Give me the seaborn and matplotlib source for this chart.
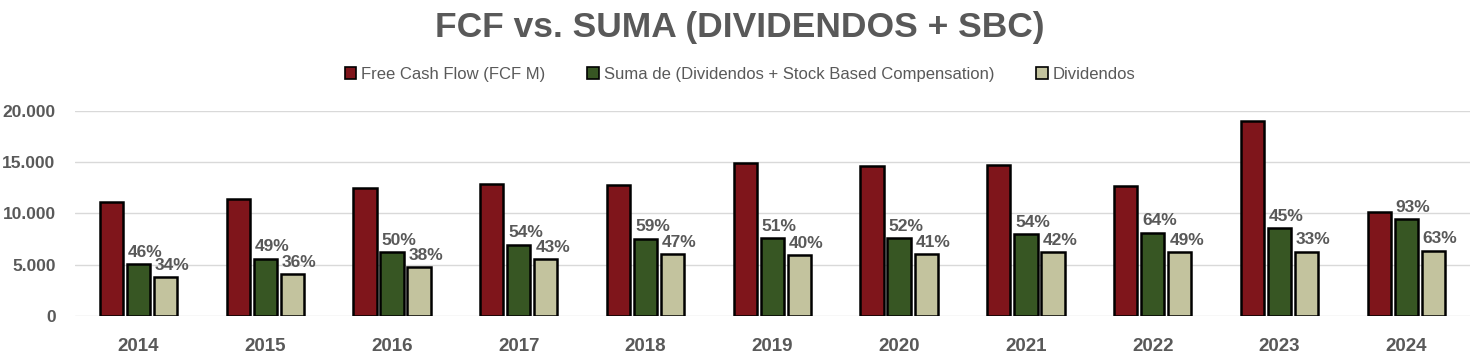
import matplotlib
matplotlib.use("Agg")
import matplotlib.pyplot as plt
import seaborn as sns
import pandas as pd
from matplotlib.patches import Patch

years = ["2014", "2015", "2016", "2017", "2018", "2019", "2020", "2021", "2022", "2023", "2024"]
fcf = [11100, 11400, 12500, 12900, 12800, 14900, 14650, 14750, 12700, 19050, 10150]
suma = [5100, 5600, 6250, 6970, 7550, 7600, 7620, 7960, 8130, 8570, 9440]
divs = [3770, 4100, 4750, 5550, 6020, 5960, 6010, 6200, 6220, 6290, 6390]
pct_suma = ["46%", "49%", "50%", "54%", "59%", "51%", "52%", "54%", "64%", "45%", "93%"]
pct_divs = ["34%", "36%", "38%", "43%", "47%", "40%", "41%", "42%", "49%", "33%", "63%"]
series = ["Free Cash Flow (FCF M)", "Suma de (Dividendos + Stock Based Compensation)", "Dividendos"]
colors = ["#7f151b", "#375623", "#c3c39e"]
grey = "#595959"

rows = []
for i, y in enumerate(years):
    rows.append((y, series[0], fcf[i]))
    rows.append((y, series[1], suma[i]))
    rows.append((y, series[2], divs[i]))
df = pd.DataFrame(rows, columns=["year", "serie", "value"])

sns.set_theme(style="white")
plt.rcParams['font.family'] = ['Liberation Sans', 'DejaVu Sans']

fig = plt.figure(figsize=(14.8, 3.58), dpi=100)
ax = fig.add_axes([0.0507, 0.1173, 0.9423, 0.5727])
sns.barplot(data=df, x="year", y="value", hue="serie", hue_order=series,
            palette=colors, width=0.64, gap=0.14, edgecolor="black", linewidth=1.8,
            ax=ax, legend=False, saturation=1)
ax.set_xlim(-0.5, 10.5)
ax.set_ylim(0, 20000)
ax.set_yticks([0, 5000, 10000, 15000, 20000])
ax.set_yticklabels(["0", "5.000", "10.000", "15.000", "20.000"])
ax.yaxis.grid(True, color="#d9d9d9", linewidth=1)
ax.set_axisbelow(True)
for s in ax.spines.values():
    s.set_visible(False)
ax.set_xlabel("")
ax.set_ylabel("")
ax.tick_params(axis="both", length=0, labelcolor=grey)
ax.tick_params(axis="y", pad=14, labelsize=12.5)
ax.tick_params(axis="x", pad=16, labelsize=13.5)
for lab in ax.get_xticklabels() + ax.get_yticklabels():
    lab.set_fontweight("bold")

# percentage labels
conts = ax.containers
for cont, labs in ((conts[1], pct_suma), (conts[2], pct_divs)):
    texts = ax.bar_label(cont, labels=labs, padding=3, fontsize=12.5, fontweight="bold", color=grey)
    for t in texts:
        t.xyann = (5, t.xyann[1])

fig.text(0.5, 0.922, "FCF vs. SUMA (DIVIDENDOS + SBC)", ha="center", va="center",
         fontsize=25.5, fontweight="bold", color=grey)
handles = [Patch(facecolor=c, edgecolor="black", linewidth=1.2) for c in colors]
fig.legend(handles, series, loc="center", bbox_to_anchor=(0.50, 0.793), ncol=3,
           frameon=False, fontsize=12.0, handlelength=0.7, handleheight=0.7,
           handletextpad=0.3, columnspacing=2.5, labelcolor=grey)

fig.savefig("out.png", dpi=100)
